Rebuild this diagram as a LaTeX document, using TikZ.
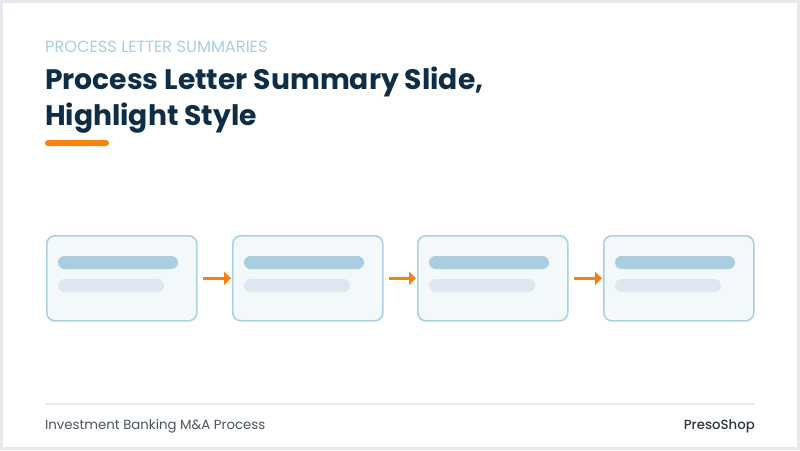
\documentclass[tikz,border=0pt]{standalone}
\usepackage{fontspec}
\setmainfont{Poppins}[BoldFont={Poppins Bold}]
\newfontfamily\popmed{Poppins Medium}
\usetikzlibrary{arrows.meta}
\definecolor{navy}{HTML}{0F2D45}
\definecolor{subblue}{HTML}{A9CFE0}
\definecolor{accent}{HTML}{F5820D}
\definecolor{boxedge}{HTML}{A9D1DF}
\definecolor{boxfill}{HTML}{F3F8FB}
\definecolor{barone}{HTML}{A8CEE0}
\definecolor{bartwo}{HTML}{DEE7EF}
\definecolor{rulegray}{HTML}{E6EBF0}
\definecolor{foottext}{HTML}{4A5560}
\definecolor{brandtext}{HTML}{2E3640}
\definecolor{frame}{HTML}{E6EAEF}
\tikzset{
  stepcard/.style={draw=boxedge, line width=1.6pt, fill=boxfill, rounded corners=8pt,
    minimum width=150pt, minimum height=85pt, inner sep=0pt, anchor=north west},
  barmain/.style={fill=barone, rounded corners=6.5pt},
  barsub/.style={fill=bartwo, rounded corners=6.5pt},
  flow/.style={draw=accent, line width=3pt, -{Triangle[length=7pt,width=13pt]}, shorten <=5pt, shorten >=1pt}
}
\begin{document}
\begin{tikzpicture}[x=1pt,y=-1pt]
\useasboundingbox (0,0) rectangle (800,450);
\fill[white] (0,0) rectangle (800,450);
\draw[frame, line width=3pt] (1.5,1.5) rectangle (798.5,448.5);
% header
\node[anchor=base west, inner sep=0pt, text=subblue, font=\fontsize{16.2}{19}\selectfont] (kicker) at (45,52) {PROCESS LETTER SUMMARIES};
\node[anchor=base west, inner sep=0pt, text=navy, font=\fontsize{28.2}{32}\bfseries] (title1) at (45,89.5) {Process Letter Summary Slide,};
\node[anchor=base west, inner sep=0pt, text=navy, font=\fontsize{28.2}{32}\bfseries] (title2) at (45,125.7) {Highlight Style};
\fill[accent, rounded corners=3pt] (45,140) rectangle (109,146);
% cards
\foreach \i/\x in {1/46,2/232,3/417,4/603}{
  \node[stepcard] (card\i) at (\x,235) {};
  \fill[barmain] (\x+12,256) rectangle (\x+132,269);
  \fill[barsub] (\x+12,279) rectangle (\x+118,292);
}
\foreach \a/\b in {1/2,2/3,3/4}{
  \draw[flow] (card\a.east) -- (card\b.west);
}
% footer
\draw[rulegray, line width=1.5pt] (45,404) -- (755,404);
\node[anchor=base west, inner sep=0pt, text=foottext, font=\fontsize{13.3}{15}\selectfont] (foot) at (45,429) {Investment Banking M\&A Process};
\node[anchor=base east, inner sep=0pt, text=brandtext, font=\fontsize{13.3}{15}\popmed] (brand) at (755,429) {PresoShop};
\end{tikzpicture}
\end{document}
